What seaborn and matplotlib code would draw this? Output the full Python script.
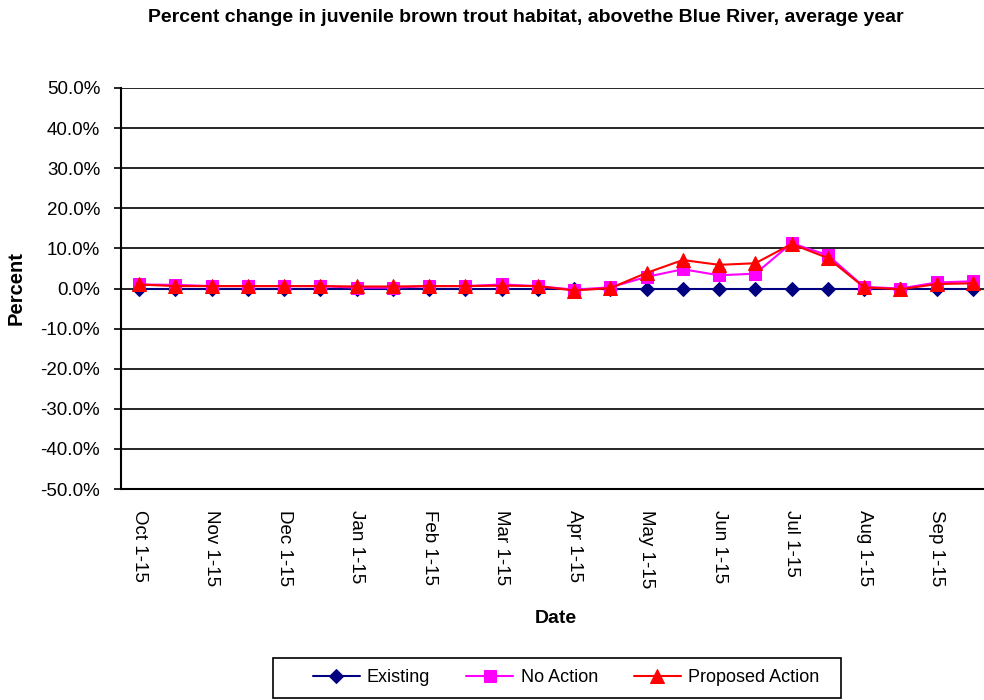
import matplotlib
matplotlib.use("Agg")
import matplotlib.pyplot as plt
from matplotlib.patches import Rectangle
import seaborn as sns
import pandas as pd
import numpy as np

# DATA
periods = ["Oct 1-15", "Oct 16-31", "Nov 1-15", "Nov 16-30", "Dec 1-15", "Dec 16-31",
           "Jan 1-15", "Jan 16-31", "Feb 1-15", "Feb 16-28", "Mar 1-15", "Mar 16-31",
           "Apr 1-15", "Apr 16-30", "May 1-15", "May 16-31", "Jun 1-15", "Jun 16-30",
           "Jul 1-15", "Jul 16-31", "Aug 1-15", "Aug 16-31", "Sep 1-15", "Sep 16-30"]
existing = [0.0] * 24
no_action = [1.0, 0.9, 0.6, 0.6, 0.6, 0.6, 0.2, 0.2, 0.6, 0.6, 1.0, 0.6,
             -0.3, 0.3, 2.9, 4.8, 3.3, 3.7, 11.3, 8.3, 0.4, 0.0, 1.5, 1.8]
proposed = [1.0, 0.6, 0.6, 0.6, 0.6, 0.6, 0.5, 0.5, 0.6, 0.6, 0.7, 0.6,
            -0.5, 0.1, 3.9, 7.1, 5.9, 6.3, 11.1, 7.6, 0.3, -0.2, 1.1, 1.3]

series = ["Existing", "No Action", "Proposed Action"]
colors = ["#000080", "#FF00FF", "#FF0000"]
markers = ["D", "s", "^"]
msizes = [7, 9, 10]

df = pd.DataFrame({"pos": np.arange(len(periods)), "Existing": existing,
                   "No Action": no_action, "Proposed Action": proposed})

sns.set_style("white")
plt.rcParams["font.family"] = ["Liberation Sans", "DejaVu Sans"]
plt.rcParams["text.color"] = "black"
plt.rcParams["axes.labelcolor"] = "black"
plt.rcParams["xtick.color"] = "black"
plt.rcParams["ytick.color"] = "black"

fig = plt.figure(figsize=(9.84, 7.0), dpi=100)
ax = fig.add_axes([121 / 984, 1 - 489 / 700, 870 / 984, 401 / 700])

for name, c, m, ms in zip(series, colors, markers, msizes):
    sns.lineplot(data=df, x="pos", y=name, ax=ax, color=c, marker=m, markersize=ms,
                 markeredgecolor=c, linewidth=1.5, label=name)

ax.set_xlim(-0.5, len(periods) - 0.5)
ax.set_ylim(-50, 50)
ax.set_yticks(np.arange(-50, 51, 10))
ax.set_yticklabels([f"{v:.1f}%" for v in np.arange(-50, 51, 10)], fontsize=13.5)
ax.yaxis.grid(True, color="black", linewidth=1.2)
ax.set_axisbelow(True)

ax.set_xticks(np.arange(0, len(periods), 2))
ax.set_xticklabels(periods[::2], rotation=270, fontsize=13.5)
ax.set_xticks(np.arange(-0.5, len(periods), 1), minor=True)
ax.tick_params(axis="x", which="major", length=0, pad=15)
ax.tick_params(axis="x", which="minor", length=5, width=1.2, direction="out", color="black")
ax.tick_params(axis="y", length=5, width=1.2, direction="out", color="black", left=True, pad=10)

for s in ["top", "right"]:
    ax.spines[s].set_visible(False)
for s in ["left", "bottom"]:
    ax.spines[s].set_color("black")
    ax.spines[s].set_linewidth(1.5)

ax.set_xlabel("Date", fontsize=14, fontweight="bold", labelpad=16)
ax.set_ylabel("Percent", fontsize=14.5, fontweight="bold", labelpad=11)

fig.text(0.534, 1 - 18 / 700, "Percent change in juvenile brown trout habitat, abovethe Blue River, average year",
         ha="center", va="center", fontsize=14, fontweight="bold")

# legend content without frame, box drawn separately
ax.legend(loc="center", bbox_to_anchor=(566 / 984, 1 - 678 / 700),
          bbox_transform=fig.transFigure, ncol=3, fontsize=13, frameon=False,
          handlelength=2.6, handletextpad=0.4, columnspacing=2.0, borderpad=0)
fig.patches.append(Rectangle((273 / 984, 2 / 700), 568 / 984, 40 / 700,
                             transform=fig.transFigure, fill=False,
                             edgecolor="black", linewidth=1.2))

fig.savefig("out.png", dpi=100)
